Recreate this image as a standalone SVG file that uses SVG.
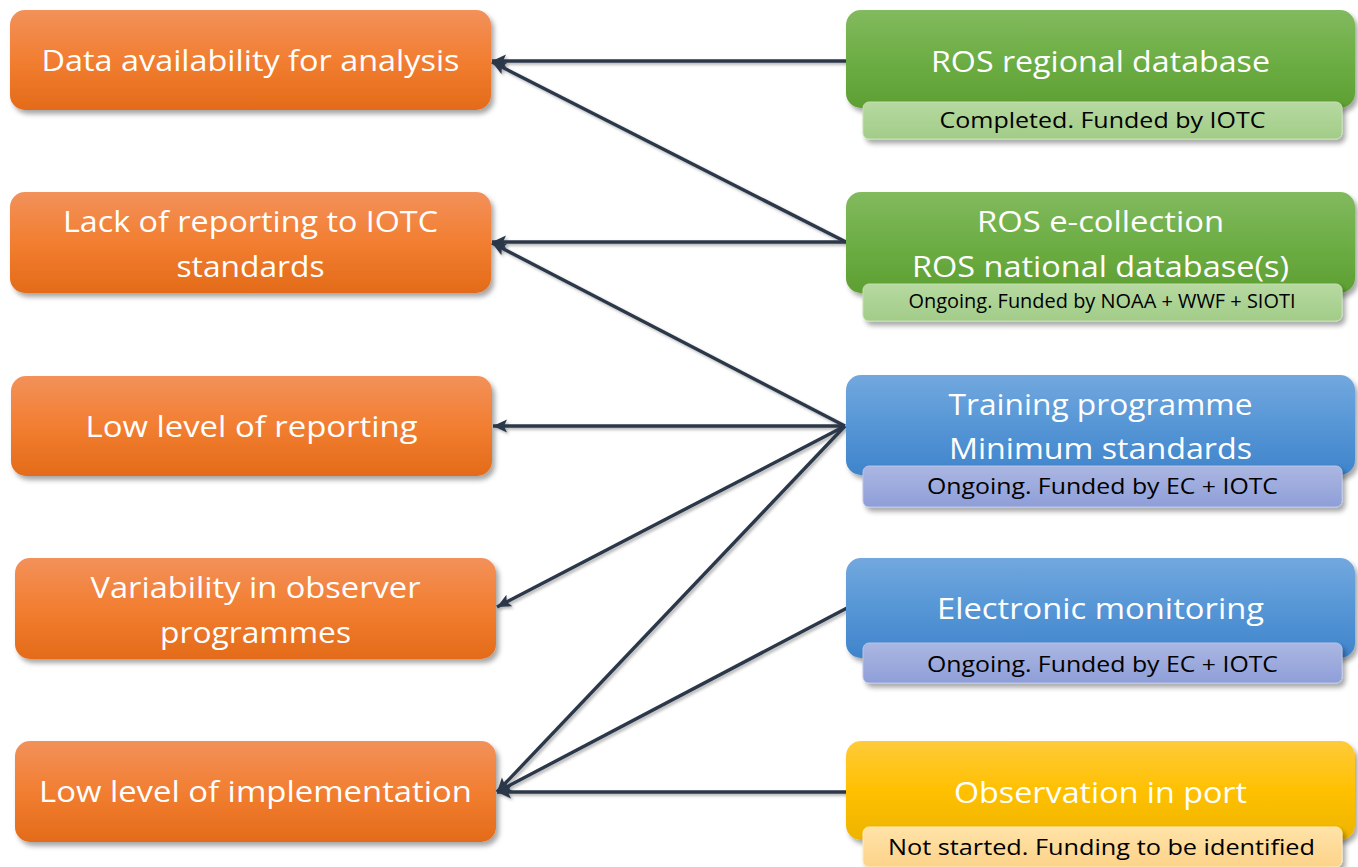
<svg xmlns="http://www.w3.org/2000/svg" width="1358" height="867" viewBox="0 0 1358 867">
  <defs>
    <linearGradient id="gOrange" x1="0" y1="0" x2="0" y2="1">
      <stop offset="0" stop-color="#F2915A"/>
      <stop offset="0.5" stop-color="#F27E31"/>
      <stop offset="1" stop-color="#E36B19"/>
    </linearGradient>
    <linearGradient id="gGreen" x1="0" y1="0" x2="0" y2="1">
      <stop offset="0" stop-color="#82BA5E"/>
      <stop offset="0.5" stop-color="#6DAE45"/>
      <stop offset="1" stop-color="#5E9F32"/>
    </linearGradient>
    <linearGradient id="gGreenSub" x1="0" y1="0" x2="0" y2="1">
      <stop offset="0" stop-color="#B6D9A0"/>
      <stop offset="1" stop-color="#A2CC88"/>
    </linearGradient>
    <linearGradient id="gBlue" x1="0" y1="0" x2="0" y2="1">
      <stop offset="0" stop-color="#72A8DE"/>
      <stop offset="0.5" stop-color="#5696D6"/>
      <stop offset="1" stop-color="#3F84CB"/>
    </linearGradient>
    <linearGradient id="gBlueSub" x1="0" y1="0" x2="0" y2="1">
      <stop offset="0" stop-color="#ABB7E2"/>
      <stop offset="1" stop-color="#8E9ED8"/>
    </linearGradient>
    <linearGradient id="gYellow" x1="0" y1="0" x2="0" y2="1">
      <stop offset="0" stop-color="#FFCB3A"/>
      <stop offset="0.5" stop-color="#FFC000"/>
      <stop offset="1" stop-color="#EDB400"/>
    </linearGradient>
    <linearGradient id="gYellowSub" x1="0" y1="0" x2="0" y2="1">
      <stop offset="0" stop-color="#FFE3A8"/>
      <stop offset="1" stop-color="#FDD38A"/>
    </linearGradient>
    <filter id="boxShadow" x="-10%" y="-20%" width="120%" height="150%">
      <feDropShadow dx="3" dy="4" stdDeviation="2.5" flood-color="#000" flood-opacity="0.35"/>
    </filter>
    <filter id="lineShadow" x="-5%" y="-5%" width="110%" height="110%">
      <feDropShadow dx="2" dy="2" stdDeviation="1.5" flood-color="#000" flood-opacity="0.3"/>
    </filter>
    <marker id="arrow" markerUnits="userSpaceOnUse" markerWidth="16" markerHeight="14" refX="14" refY="7" orient="auto">
      <path d="M0,0.5 L14,7 L0,13.5 L3,7 Z" fill="#2B3749"/>
    </marker>
  </defs>
  <style>
    .main { fill: #FFFFFF; font-family: "Open Sans", "Noto Sans", sans-serif; font-size: 29.5px; text-anchor: middle; }
    .sub { fill: #000000; font-family: "Open Sans", "Noto Sans", sans-serif; font-size: 22.5px; text-anchor: middle; }
    .small { font-size: 19.5px; }
    .box { filter: url(#boxShadow); }
    .subbox { filter: url(#boxShadow); stroke-width: 1; }
    .link { fill: none; stroke: #2B3749; stroke-width: 3.4; marker-end: url(#arrow); }
  </style>

  <!-- issues (left column) -->
  <g id="issue-data-availability">
    <rect class="box" x="10" y="10" width="481" height="100" rx="15" fill="url(#gOrange)"/>
    <text class="main" x="250.5" y="71" textLength="418" lengthAdjust="spacingAndGlyphs">Data availability for analysis</text>
  </g>
  <g id="issue-lack-of-reporting">
    <rect class="box" x="10" y="192" width="481" height="101" rx="15" fill="url(#gOrange)"/>
    <text class="main" x="250.5" y="232" textLength="375" lengthAdjust="spacingAndGlyphs">Lack of reporting to IOTC</text>
    <text class="main" x="250.5" y="277" textLength="148" lengthAdjust="spacingAndGlyphs">standards</text>
  </g>
  <g id="issue-low-reporting">
    <rect class="box" x="11" y="376" width="481" height="100" rx="15" fill="url(#gOrange)"/>
    <text class="main" x="251.5" y="437" textLength="332" lengthAdjust="spacingAndGlyphs">Low level of reporting</text>
  </g>
  <g id="issue-variability">
    <rect class="box" x="15" y="558" width="481" height="101" rx="15" fill="url(#gOrange)"/>
    <text class="main" x="255.5" y="598" textLength="330" lengthAdjust="spacingAndGlyphs">Variability in observer</text>
    <text class="main" x="255.5" y="643" textLength="191" lengthAdjust="spacingAndGlyphs">programmes</text>
  </g>
  <g id="issue-low-implementation">
    <rect class="box" x="15" y="741" width="481" height="101" rx="15" fill="url(#gOrange)"/>
    <text class="main" x="255.5" y="802" textLength="433" lengthAdjust="spacingAndGlyphs">Low level of implementation</text>
  </g>

  <!-- connectors -->
  <g id="connectors" filter="url(#lineShadow)">
    <line class="link" x1="846" y1="61" x2="492" y2="61"/>
    <line class="link" x1="846" y1="242" x2="492" y2="62"/>
    <line class="link" x1="846" y1="242" x2="492" y2="242"/>
    <line class="link" x1="845" y1="426" x2="492" y2="243"/>
    <line class="link" x1="845" y1="426" x2="493" y2="426"/>
    <line class="link" x1="845" y1="426" x2="497" y2="607"/>
    <line class="link" x1="845" y1="426" x2="497" y2="792"/>
    <line class="link" x1="847" y1="608" x2="497" y2="792"/>
    <line class="link" x1="846" y1="792" x2="497" y2="792"/>
  </g>

  <!-- actions (right column) -->
  <g id="action-ros-regional-db">
    <rect class="box" x="846" y="10" width="509" height="98" rx="15" fill="url(#gGreen)"/>
    <text class="main" x="1100.5" y="72" textLength="339" lengthAdjust="spacingAndGlyphs">ROS regional database</text>
    <rect class="subbox" x="863" y="102" width="479" height="37" rx="6" fill="url(#gGreenSub)" stroke="#C4E0B2"/>
    <text class="sub" x="1102.5" y="128" textLength="326" lengthAdjust="spacingAndGlyphs">Completed. Funded by IOTC</text>
  </g>
  <g id="action-ros-ecollection">
    <rect class="box" x="846" y="192" width="509" height="101" rx="15" fill="url(#gGreen)"/>
    <text class="main" x="1100.5" y="232" textLength="247" lengthAdjust="spacingAndGlyphs">ROS e-collection</text>
    <text class="main" x="1100.5" y="277" textLength="377" lengthAdjust="spacingAndGlyphs">ROS national database(s)</text>
    <rect class="subbox" x="863" y="284" width="479" height="37" rx="6" fill="url(#gGreenSub)" stroke="#C4E0B2"/>
    <text class="sub small" x="1102" y="308" textLength="387" lengthAdjust="spacingAndGlyphs">Ongoing. Funded by NOAA + WWF + SIOTI</text>
  </g>
  <g id="action-training">
    <rect class="box" x="846" y="375" width="509" height="100" rx="15" fill="url(#gBlue)"/>
    <text class="main" x="1100.5" y="415" textLength="304" lengthAdjust="spacingAndGlyphs">Training programme</text>
    <text class="main" x="1100.5" y="459" textLength="303" lengthAdjust="spacingAndGlyphs">Minimum standards</text>
    <rect class="subbox" x="863" y="466" width="479" height="41" rx="6" fill="url(#gBlueSub)" stroke="#B9C3E8"/>
    <text class="sub" x="1102.5" y="494" textLength="351" lengthAdjust="spacingAndGlyphs">Ongoing. Funded by EC + IOTC</text>
  </g>
  <g id="action-electronic-monitoring">
    <rect class="box" x="846" y="558" width="509" height="100" rx="15" fill="url(#gBlue)"/>
    <text class="main" x="1100.5" y="619" textLength="327" lengthAdjust="spacingAndGlyphs">Electronic monitoring</text>
    <rect class="subbox" x="863" y="643" width="479" height="40" rx="6" fill="url(#gBlueSub)" stroke="#B9C3E8"/>
    <text class="sub" x="1102.5" y="672" textLength="351" lengthAdjust="spacingAndGlyphs">Ongoing. Funded by EC + IOTC</text>
  </g>
  <g id="action-observation-port">
    <rect class="box" x="846" y="741" width="509" height="99" rx="15" fill="url(#gYellow)"/>
    <text class="main" x="1100.5" y="803" textLength="293" lengthAdjust="spacingAndGlyphs">Observation in port</text>
    <rect class="subbox" x="863" y="827" width="479" height="40" rx="6" fill="url(#gYellowSub)" stroke="#FFE9BD"/>
    <text class="sub" x="1101.5" y="855" textLength="427" lengthAdjust="spacingAndGlyphs">Not started. Funding to be identified</text>
  </g>
</svg>
